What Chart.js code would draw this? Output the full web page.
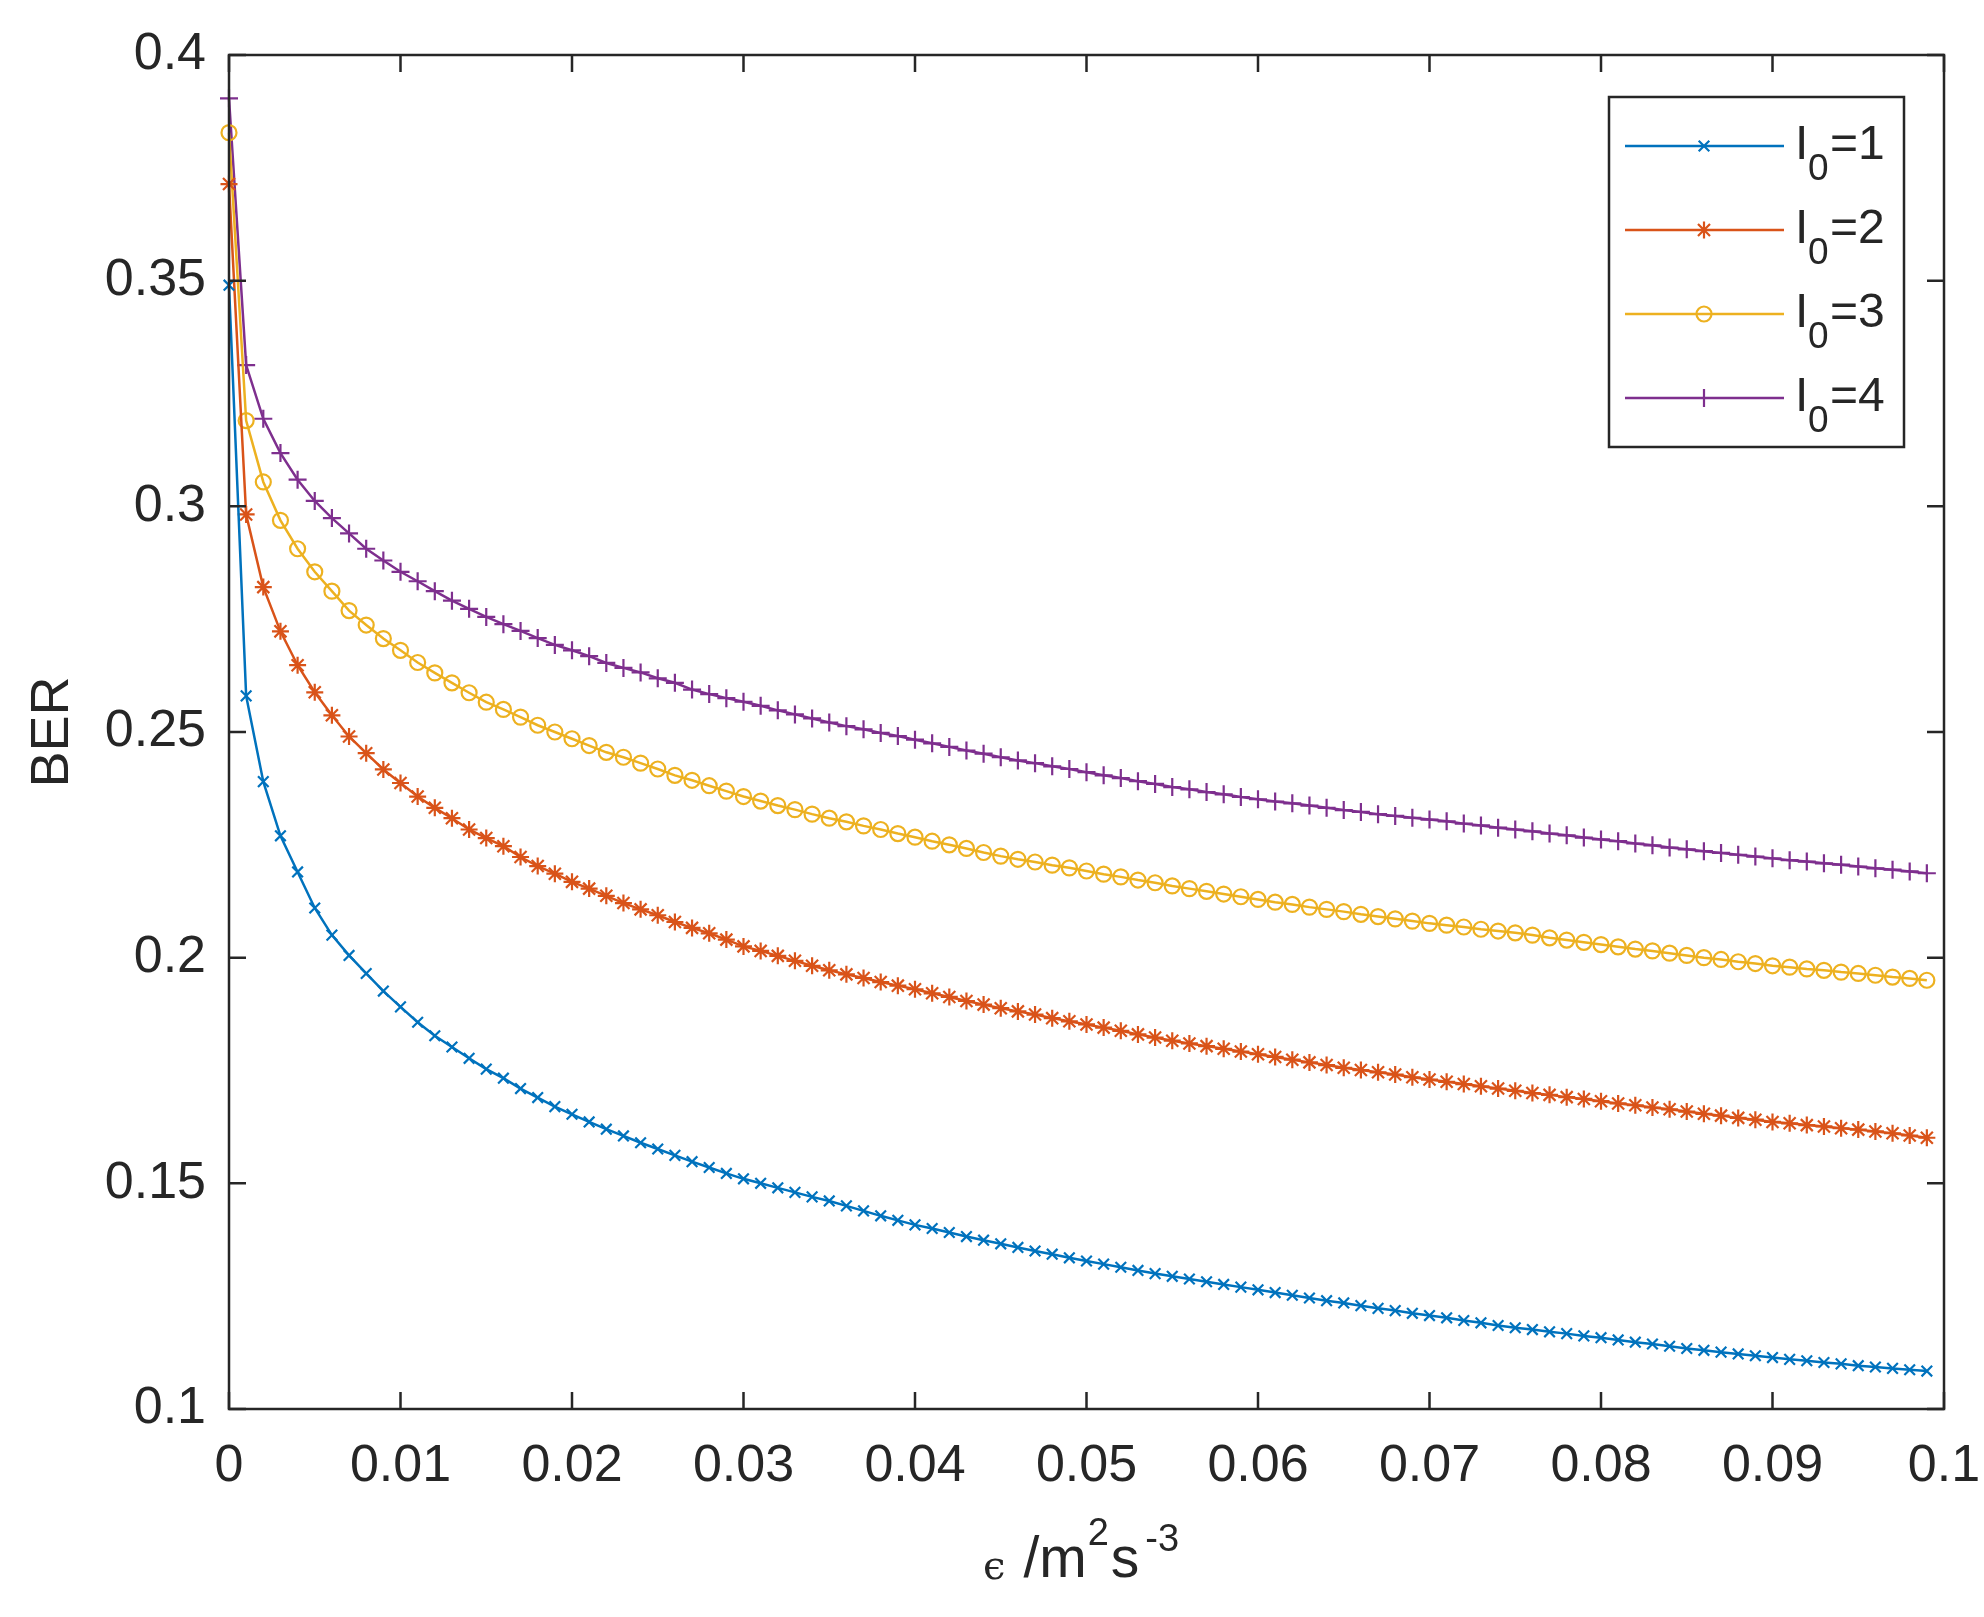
<!DOCTYPE html>
<html>
<head>
<meta charset="utf-8">
<script src="https://cdn.jsdelivr.net/npm/chart.js@4.4.1/dist/chart.umd.min.js"></script>
<style>
  html, body { margin: 0; padding: 0; background: #fff; }
  canvas { display: block; }
</style>
</head>
<body>
<canvas id="ber" width="1984" height="1617" style="width:1984px;height:1617px"></canvas>
<script>
// epsilon values (m^2 s^-3), one marker every 0.001
const eps = [
  0, 0.001, 0.002, 0.003, 0.004, 0.005, 0.006, 0.007, 0.008, 0.009,
  0.010, 0.011, 0.012, 0.013, 0.014, 0.015, 0.016, 0.017, 0.018, 0.019,
  0.020, 0.021, 0.022, 0.023, 0.024, 0.025, 0.026, 0.027, 0.028, 0.029,
  0.030, 0.031, 0.032, 0.033, 0.034, 0.035, 0.036, 0.037, 0.038, 0.039,
  0.040, 0.041, 0.042, 0.043, 0.044, 0.045, 0.046, 0.047, 0.048, 0.049,
  0.050, 0.051, 0.052, 0.053, 0.054, 0.055, 0.056, 0.057, 0.058, 0.059,
  0.060, 0.061, 0.062, 0.063, 0.064, 0.065, 0.066, 0.067, 0.068, 0.069,
  0.070, 0.071, 0.072, 0.073, 0.074, 0.075, 0.076, 0.077, 0.078, 0.079,
  0.080, 0.081, 0.082, 0.083, 0.084, 0.085, 0.086, 0.087, 0.088, 0.089,
  0.090, 0.091, 0.092, 0.093, 0.094, 0.095, 0.096, 0.097, 0.098, 0.099
];

const berI1 = [
  0.3490, 0.2580, 0.2390, 0.2270, 0.2190, 0.2110, 0.2050, 0.2005, 0.1965, 0.1926,
  0.1891, 0.1857, 0.1827, 0.1802, 0.1777, 0.1753, 0.1733, 0.1710, 0.1690, 0.1670,
  0.1653, 0.1636, 0.1620, 0.1605, 0.1590, 0.1576, 0.1562, 0.1548, 0.1535, 0.1522,
  0.1510, 0.1500, 0.1490, 0.1480, 0.1470, 0.1461, 0.1450, 0.1439, 0.1428, 0.1418,
  0.1408, 0.1400, 0.1391, 0.1382, 0.1374, 0.1366, 0.1358, 0.1350, 0.1343, 0.1335,
  0.1328, 0.1321, 0.1314, 0.1307, 0.1300, 0.1294, 0.1288, 0.1282, 0.1276, 0.1270,
  0.1264, 0.1258, 0.1252, 0.1246, 0.1240, 0.1235, 0.1229, 0.1223, 0.1218, 0.1212,
  0.1207, 0.1202, 0.1196, 0.1191, 0.1185, 0.1180, 0.1176, 0.1171, 0.1167, 0.1162,
  0.1158, 0.1153, 0.1148, 0.1144, 0.1139, 0.1134, 0.1130, 0.1126, 0.1122, 0.1118,
  0.1114, 0.1110, 0.1107, 0.1103, 0.1100, 0.1096, 0.1093, 0.1090, 0.1087, 0.1084
];

const berI2 = [
  0.3714, 0.2982, 0.2821, 0.2723, 0.2648, 0.2588, 0.2537, 0.2490, 0.2453, 0.2417,
  0.2387, 0.2357, 0.2332, 0.2309, 0.2284, 0.2265, 0.2247, 0.2223, 0.2203, 0.2186,
  0.2168, 0.2153, 0.2137, 0.2121, 0.2107, 0.2094, 0.2079, 0.2066, 0.2054, 0.2040,
  0.2025, 0.2015, 0.2004, 0.1993, 0.1982, 0.1972, 0.1963, 0.1955, 0.1946, 0.1938,
  0.1930, 0.1921, 0.1913, 0.1904, 0.1896, 0.1888, 0.1881, 0.1874, 0.1866, 0.1859,
  0.1852, 0.1845, 0.1838, 0.1830, 0.1823, 0.1816, 0.1810, 0.1804, 0.1798, 0.1792,
  0.1786, 0.1780, 0.1774, 0.1768, 0.1762, 0.1756, 0.1751, 0.1746, 0.1741, 0.1735,
  0.1730, 0.1725, 0.1720, 0.1715, 0.1710, 0.1705, 0.1700, 0.1696, 0.1691, 0.1687,
  0.1682, 0.1677, 0.1673, 0.1668, 0.1664, 0.1659, 0.1654, 0.1650, 0.1645, 0.1641,
  0.1636, 0.1633, 0.1629, 0.1626, 0.1622, 0.1619, 0.1615, 0.1611, 0.1606, 0.1601
];

const berI3 = [
  0.3828, 0.3190, 0.3054, 0.2969, 0.2906, 0.2855, 0.2812, 0.2769, 0.2737, 0.2707,
  0.2681, 0.2654, 0.2631, 0.2609, 0.2587, 0.2566, 0.2550, 0.2533, 0.2515, 0.2500,
  0.2485, 0.2470, 0.2455, 0.2444, 0.2431, 0.2418, 0.2404, 0.2393, 0.2381, 0.2369,
  0.2357, 0.2347, 0.2337, 0.2328, 0.2318, 0.2309, 0.2301, 0.2292, 0.2284, 0.2275,
  0.2267, 0.2258, 0.2250, 0.2242, 0.2233, 0.2225, 0.2218, 0.2212, 0.2205, 0.2199,
  0.2192, 0.2185, 0.2179, 0.2172, 0.2166, 0.2159, 0.2153, 0.2147, 0.2141, 0.2135,
  0.2129, 0.2123, 0.2118, 0.2112, 0.2107, 0.2102, 0.2096, 0.2091, 0.2086, 0.2081,
  0.2076, 0.2072, 0.2068, 0.2063, 0.2059, 0.2055, 0.2050, 0.2044, 0.2039, 0.2034,
  0.2029, 0.2024, 0.2019, 0.2015, 0.2010, 0.2005, 0.2000, 0.1996, 0.1991, 0.1987,
  0.1982, 0.1979, 0.1975, 0.1972, 0.1968, 0.1965, 0.1961, 0.1957, 0.1954, 0.1950
];

const berI4 = [
  0.3904, 0.3313, 0.3194, 0.3118, 0.3059, 0.3012, 0.2974, 0.2940, 0.2906, 0.2880,
  0.2855, 0.2834, 0.2812, 0.2791, 0.2773, 0.2755, 0.2739, 0.2724, 0.2708, 0.2693,
  0.2681, 0.2668, 0.2653, 0.2642, 0.2632, 0.2619, 0.2609, 0.2594, 0.2584, 0.2575,
  0.2567, 0.2558, 0.2548, 0.2539, 0.2530, 0.2521, 0.2513, 0.2506, 0.2498, 0.2491,
  0.2483, 0.2475, 0.2467, 0.2459, 0.2452, 0.2444, 0.2437, 0.2431, 0.2424, 0.2418,
  0.2411, 0.2404, 0.2398, 0.2391, 0.2385, 0.2378, 0.2373, 0.2367, 0.2362, 0.2356,
  0.2351, 0.2346, 0.2342, 0.2337, 0.2332, 0.2327, 0.2323, 0.2318, 0.2314, 0.2310,
  0.2306, 0.2302, 0.2297, 0.2293, 0.2288, 0.2284, 0.2280, 0.2275, 0.2271, 0.2266,
  0.2262, 0.2258, 0.2253, 0.2249, 0.2244, 0.2240, 0.2236, 0.2232, 0.2228, 0.2224,
  0.2220, 0.2216, 0.2213, 0.2209, 0.2206, 0.2202, 0.2198, 0.2195, 0.2191, 0.2187
];

const seriesNames = ["1", "2", "3", "4"];   // I0 values
const seriesData = [berI1, berI2, berI3, berI4];
const seriesColors = ["#0072BD", "#D95319", "#EDB120", "#7E2F8E"];
const seriesMarkers = ["crossRot", "star", "circle", "cross"];
const markerSizes = [7.5, 8.5, 7.5, 9];

const xTickStep = 0.01;
const yTickStep = 0.05;

const INK = "#262626";
const SANS = "'Liberation Sans', Arial, sans-serif";

const datasets = seriesData.map((vals, k) => ({
  label: "I0=" + seriesNames[k],
  data: eps.map((x, i) => ({ x: x, y: vals[i] })),
  borderColor: seriesColors[k],
  borderWidth: 2.5,
  pointStyle: seriesMarkers[k],
  pointRadius: markerSizes[k],
  pointBorderWidth: 2.2,
  pointBorderColor: seriesColors[k],
  pointBackgroundColor: "rgba(0,0,0,0)",
  tension: 0,
  clip: false
}));

// axes box, inward ticks, axis titles and the MATLAB-like legend
const matlabFrame = {
  id: "matlabFrame",
  afterDatasetsDraw(chart) {
    const ctx = chart.ctx;
    const a = chart.chartArea;
    const xs = chart.scales.x, ys = chart.scales.y;
    const tick = 17;

    ctx.save();
    ctx.strokeStyle = INK;
    ctx.lineWidth = 2.5;
    ctx.strokeRect(a.left, a.top, a.right - a.left, a.bottom - a.top);

    ctx.beginPath();
    xs.ticks.forEach(t => {
      const px = xs.getPixelForValue(t.value);
      ctx.moveTo(px, a.bottom); ctx.lineTo(px, a.bottom - tick);
      ctx.moveTo(px, a.top);    ctx.lineTo(px, a.top + tick);
    });
    ys.ticks.forEach(t => {
      const py = ys.getPixelForValue(t.value);
      ctx.moveTo(a.left, py);  ctx.lineTo(a.left + tick, py);
      ctx.moveTo(a.right, py); ctx.lineTo(a.right - tick, py);
    });
    ctx.stroke();

    // y title
    ctx.fillStyle = INK;
    ctx.font = "54px " + SANS;
    ctx.textAlign = "center";
    ctx.textBaseline = "middle";
    ctx.save();
    ctx.translate(53, (a.top + a.bottom) / 2);
    ctx.rotate(-Math.PI / 2);
    ctx.fillText("BER", 0, 0);
    ctx.restore();

    // x title: ϵ /m^2 s^-3
    ctx.textAlign = "left";
    ctx.textBaseline = "alphabetic";
    const base = 1577;
    let cx = 983;
    const parts = [
      { t: "\u03F5", f: "40px 'DejaVu Serif', serif", dy: 2, gap: 18 },
      { t: "/m", f: "57px " + SANS, dy: 0, gap: 1 },
      { t: "2", f: "38px " + SANS, dy: -32, gap: 2 },
      { t: "s", f: "57px " + SANS, dy: 0, gap: 6 },
      { t: "-3", f: "38px " + SANS, dy: -26, gap: 0 }
    ];
    parts.forEach(p => {
      ctx.font = p.f;
      ctx.fillText(p.t, cx, base + p.dy);
      cx += ctx.measureText(p.t).width + p.gap;
    });

    // legend
    const lx = 1609, ly = 97, lw = 295, lh = 350;
    ctx.fillStyle = "#fff";
    ctx.fillRect(lx, ly, lw, lh);
    ctx.strokeStyle = INK;
    ctx.lineWidth = 2.5;
    ctx.strokeRect(lx, ly, lw, lh);
    const rows = [146, 230, 314, 398];
    seriesNames.forEach((name, k) => {
      const ry = rows[k];
      ctx.strokeStyle = seriesColors[k];
      ctx.fillStyle = "rgba(0,0,0,0)";
      ctx.lineWidth = 2.5;
      ctx.beginPath();
      ctx.moveTo(1625, ry); ctx.lineTo(1784, ry);
      ctx.stroke();
      ctx.lineWidth = 2.2;
      Chart.helpers.drawPoint(ctx, {
        pointStyle: seriesMarkers[k],
        radius: markerSizes[k],
        rotation: 0,
        borderWidth: 2.2
      }, 1704, ry);
      ctx.fillStyle = INK;
      ctx.font = "48px " + SANS;
      ctx.fillText("I", 1795, ry + 13);
      ctx.font = "37px " + SANS;
      ctx.fillText("0", 1808, ry + 34);
      ctx.font = "48px " + SANS;
      ctx.fillText("=" + name, 1830, ry + 13);
    });
    ctx.restore();
  }
};

new Chart(document.getElementById("ber"), {
  type: "line",
  data: { datasets },
  options: {
    responsive: false,
    devicePixelRatio: 1,
    animation: false,
    events: [],
    layout: { padding: { top: 55, right: 40, left: 0, bottom: 0 } },
    plugins: { legend: { display: false }, tooltip: { enabled: false } },
    scales: {
      x: {
        type: "linear",
        min: 0,
        max: 0.1,
        grid: { display: false, drawTicks: false },
        border: { display: false },
        ticks: {
          stepSize: xTickStep,
          padding: 26,
          color: INK,
          maxRotation: 0,
          autoSkip: false,
          font: { family: SANS, size: 52 },
          callback: v => String(Number(v.toFixed(2)))
        },
        afterFit: s => { s.height = 208; s.paddingLeft = 0; s.paddingRight = 0; }
      },
      y: {
        type: "linear",
        min: 0.1,
        max: 0.4,
        grid: { display: false, drawTicks: false },
        border: { display: false },
        ticks: {
          stepSize: yTickStep,
          padding: 23,
          color: INK,
          autoSkip: false,
          font: { family: SANS, size: 52 },
          callback: v => String(Number(v.toFixed(2)))
        },
        afterFit: s => { s.width = 229; s.paddingTop = 0; s.paddingBottom = 0; }
      }
    }
  },
  plugins: [matlabFrame]
});
</script>
</body>
</html>
